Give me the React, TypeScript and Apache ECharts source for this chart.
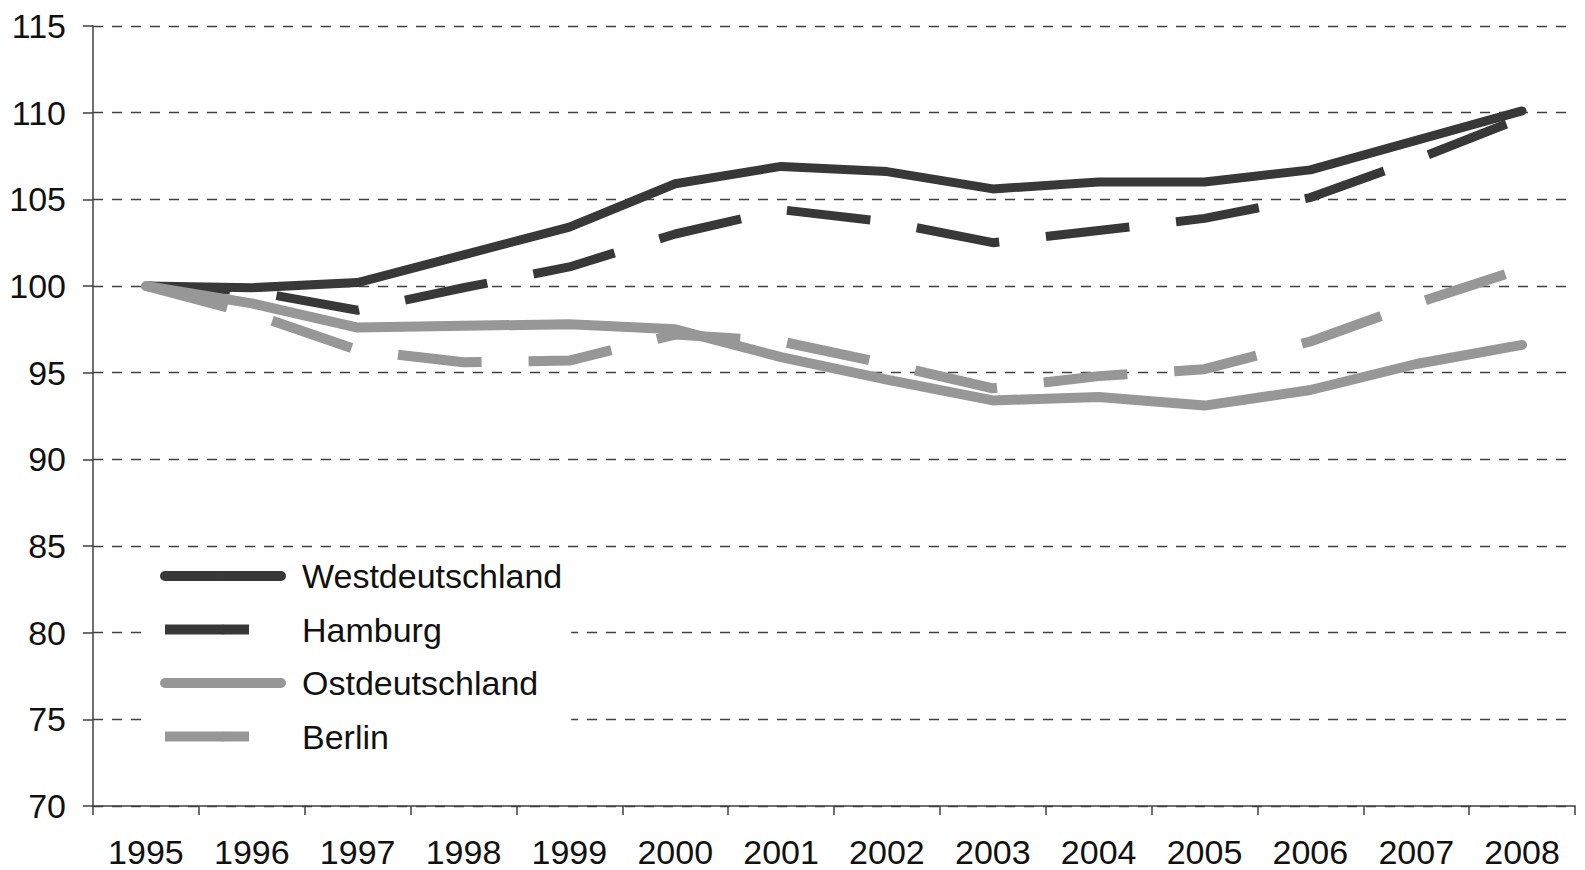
import React, { useEffect, useRef } from "react";
import * as echarts from "echarts";

const years = ["1995", "1996", "1997", "1998", "1999", "2000", "2001", "2002", "2003", "2004", "2005", "2006", "2007", "2008"];
const seriesNames = ["Westdeutschland", "Hamburg", "Ostdeutschland", "Berlin"];
const west = [100, 99.9, 100.2, 101.8, 103.4, 105.9, 106.9, 106.6, 105.6, 106.0, 106.0, 106.7, 108.4, 110.1];
const hamburg = [100, 99.7, 98.6, 99.9, 101.1, 103.0, 104.4, 103.7, 102.5, 103.2, 103.9, 105.1, 107.3, 109.7];
const ost = [100, 99.0, 97.6, 97.7, 97.8, 97.5, 95.9, 94.6, 93.4, 93.6, 93.1, 94.0, 95.5, 96.6];
const berlin = [100, 98.4, 96.3, 95.6, 95.7, 97.2, 96.8, 95.5, 94.1, 94.8, 95.2, 96.8, 99.0, 101.0];

const DARK = "#383838";
const GRAY = "#979797";
const FONT = "'Liberation Sans', Arial, sans-serif";

export default function App() {
  const ref = useRef<HTMLDivElement>(null);
  useEffect(() => {
    document.body.style.margin = "0";
    const chart = echarts.init(ref.current!, undefined, { renderer: "svg" });
    const dash = [84, 47];
    chart.setOption({
      animation: false,
      backgroundColor: "#ffffff",
      textStyle: { fontFamily: FONT },
      grid: { left: 93, right: 10, top: 26, bottom: 64, containLabel: false },
      legend: {
        orient: "vertical",
        left: 150,
        top: 551,
        padding: [8, 9, 12, 10],
        backgroundColor: "#ffffff",
        itemWidth: 116,
        itemHeight: 12,
        itemGap: 19.5,
        textStyle: { fontSize: 34, color: "#111", fontFamily: FONT, padding: [0, 0, 0, 16] },
        lineStyle: { width: 10 },
        data: seriesNames,
      },
      xAxis: {
        type: "category",
        data: years,
        boundaryGap: true,
        axisLine: { show: true, lineStyle: { color: "#404040", width: 1.5 } },
        axisTick: { show: true, interval: 0, length: 9, lineStyle: { color: "#404040", width: 1.5 } },
        axisLabel: { fontSize: 34, color: "#111", margin: 29, fontFamily: FONT, interval: 0 },
        splitLine: { show: false },
      },
      yAxis: {
        type: "value",
        min: 70,
        max: 115,
        interval: 5,
        axisLine: { show: true, lineStyle: { color: "#404040", width: 1.5 } },
        axisTick: { show: true, length: 10, lineStyle: { color: "#404040", width: 1.5 } },
        axisLabel: { fontSize: 34, color: "#111", margin: 27, fontFamily: FONT },
        splitLine: { show: true, lineStyle: { color: "#404040", width: 1.4, type: [10, 9] } },
      },
      series: [
        {
          name: seriesNames[0],
          type: "line",
          data: west,
          symbol: "none",
          lineStyle: { color: DARK, width: 9, cap: "round", join: "round" },
          itemStyle: { color: DARK },
        },
        {
          name: seriesNames[1],
          type: "line",
          data: hamburg,
          symbol: "none",
          lineStyle: { color: DARK, width: 9, type: dash, cap: "butt" },
          itemStyle: { color: DARK },
        },
        {
          name: seriesNames[2],
          type: "line",
          data: ost,
          symbol: "none",
          lineStyle: { color: GRAY, width: 10, cap: "round", join: "round" },
          itemStyle: { color: GRAY },
        },
        {
          name: seriesNames[3],
          type: "line",
          data: berlin,
          symbol: "none",
          lineStyle: { color: GRAY, width: 10, type: dash, cap: "butt" },
          itemStyle: { color: GRAY },
        },
      ],
    });
    return () => chart.dispose();
  }, []);
  return <div ref={ref} style={{ width: 1585, height: 870 }} />;
}
